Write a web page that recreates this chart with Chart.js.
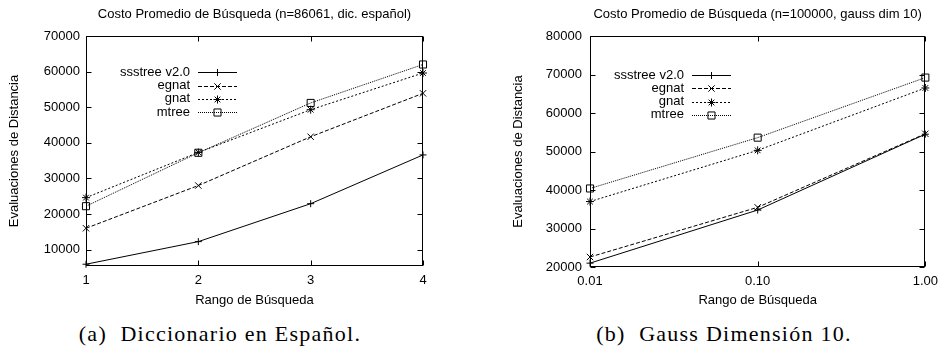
<!DOCTYPE html>
<html>
<head>
<meta charset="utf-8">
<script src="https://cdn.jsdelivr.net/npm/chart.js@4/dist/chart.umd.min.js"></script>
<style>
  body { margin: 0; background: #fff; width: 945px; height: 352px; position: relative; overflow: hidden; }
  canvas { position: absolute; top: 0; }
  .cap { position: absolute; top: 321px; font-family: 'Liberation Serif', serif; font-size: 22px;
         letter-spacing: 1.25px; white-space: pre; transform: translateX(-50%); color: #000; }
</style>
</head>
<body>
<canvas id="dic" width="470" height="310" style="left:0"></canvas>
<canvas id="gauss" width="475" height="310" style="left:470px"></canvas>
<div class="cap" style="left:220px">(a)  Diccionario en Español.</div>
<div class="cap" style="left:724px">(b)  Gauss Dimensión 10.</div>
<script>
// series shared by both plots
const seriesNames = ['ssstree v2.0', 'egnat', 'gnat', 'mtree']

// (a) diccionario en español, n=86061
const rangesA = [1, 2, 3, 4]
const xTickLabelsA = ['1', '2', '3', '4']
const yTicksA = [10000, 20000, 30000, 40000, 50000, 60000, 70000]
const ssstreeA = [5900, 12250, 22900, 36600]
const egnatA = [16000, 28000, 41700, 53900]
const gnatA = [24600, 37300, 49300, 59600]
const mtreeA = [22200, 37200, 51200, 62000]

// (b) gauss dim 10, n=100000
const rangesB = [0.01, 0.1, 1]
const xTickLabelsB = ['0.01', '0.10', '1.00']
const yTicksB = [20000, 30000, 40000, 50000, 60000, 70000, 80000]
const ssstreeB = [21000, 34800, 54500]
const egnatB = [22600, 35500, 54600]
const gnatB = [37000, 50300, 66500]
const mtreeB = [40400, 53600, 69200]

const FONT = 'Liberation Sans, Arial, sans-serif'
const dashes = [[], [4, 2], [2, 2], [1, 1]]
const markers = ['cross', 'crossRot', 'star', 'rect']
const markerSizes = [3.5, 4.5, 4, 5]

// gnuplot style frame with inward ticks, plus the key inside the plot
const frameAndKey = {
  id: 'frameAndKey',
  afterDatasetsDraw(chart, args, opts) {
    const { ctx, chartArea: a, scales: { x, y } } = chart
    ctx.save()
    ctx.strokeStyle = '#000'
    ctx.lineWidth = 1
    ctx.setLineDash([])
    const L = Math.round(a.left) + 0.5, R = Math.round(a.right) - 0.5
    const T = Math.round(a.top) + 0.5, B = Math.round(a.bottom) - 0.5
    ctx.strokeRect(L, T, R - L, B - T)
    ctx.beginPath()
    y.ticks.forEach(t => {
      const py = Math.round(y.getPixelForValue(t.value)) + 0.5
      ctx.moveTo(L, py); ctx.lineTo(L + 5, py)
      ctx.moveTo(R, py); ctx.lineTo(R - 5, py)
    })
    x.ticks.forEach(t => {
      const px = Math.round(x.getPixelForValue(t.value)) + 0.5
      ctx.moveTo(px, B); ctx.lineTo(px, B - 5)
      ctx.moveTo(px, T); ctx.lineTo(px, T + 5)
    })
    ctx.stroke()

    // key
    ctx.font = '13px ' + FONT
    ctx.fillStyle = '#000'
    ctx.textAlign = 'right'
    ctx.textBaseline = 'middle'
    chart.data.datasets.forEach((ds, i) => {
      const ky = opts.y + i * 13.3
      ctx.fillText(ds.label, opts.x, ky)
      ctx.setLineDash(ds.borderDash)
      ctx.beginPath()
      ctx.moveTo(opts.x + 8, Math.round(ky) + 0.5)
      ctx.lineTo(opts.x + 47, Math.round(ky) + 0.5)
      ctx.stroke()
      ctx.setLineDash([])
      ctx.fillStyle = 'rgba(0,0,0,0)'
      Chart.helpers.drawPoint(ctx, { pointStyle: ds.pointStyle, rotation: 0, radius: ds.pointRadius, borderWidth: 1 },
        opts.x + 27.5, Math.round(ky) + 0.5)
      ctx.fillStyle = '#000'
    })
    ctx.restore()
  }
}

function makeChart(id, cfg) {
  return new Chart(document.getElementById(id), {
    type: 'line',
    data: {
      datasets: seriesNames.map((name, i) => ({
        label: name,
        data: cfg.xs.map((v, j) => ({ x: v, y: cfg.series[i][j] })),
        borderColor: '#000',
        borderWidth: 1,
        borderDash: dashes[i],
        pointStyle: markers[i],
        pointRadius: markerSizes[i],
        pointBorderColor: '#000',
        pointBackgroundColor: 'rgba(0,0,0,0)',
        pointBorderWidth: 1,
        tension: 0,
        fill: false,
        clip: false
      }))
    },
    options: {
      responsive: false,
      animation: false,
      events: [],
      layout: { padding: { left: 0, top: 0, bottom: 0, right: cfg.padRight } },
      plugins: {
        legend: { display: false },
        tooltip: { enabled: false },
        title: {
          display: true, text: cfg.title, fullSize: false, color: '#000',
          font: { family: FONT, size: 13, weight: 'normal' },
          padding: { top: 7, bottom: 13.4 }
        },
        frameAndKey: { x: cfg.keyX, y: cfg.keyY }
      },
      scales: {
        x: {
          type: cfg.xType, min: cfg.xs[0], max: cfg.xs[cfg.xs.length - 1],
          grid: { display: false, drawTicks: false }, border: { display: false },
          ticks: { color: '#000', font: { family: FONT, size: 13 }, padding: 7, maxRotation: 0,
                   callback: (v, i) => cfg.xLabels[i] },
          title: { display: true, text: 'Rango de Búsqueda', color: '#000',
                   font: { family: FONT, size: 13 }, padding: { top: 0, bottom: 2 } },
          afterBuildTicks: s => { s.ticks = cfg.xs.map(v => ({ value: v })) },
          afterFit: s => { s.height = cfg.xH }
        },
        y: {
          min: cfg.yMin, max: cfg.yMax,
          grid: { display: false, drawTicks: false }, border: { display: false },
          ticks: { color: '#000', font: { family: FONT, size: 13 }, padding: cfg.yPad,
                   callback: v => String(v) },
          title: { display: true, text: 'Evaluaciones de Distancia', color: '#000',
                   font: { family: FONT, size: 13 }, padding: { top: cfg.yTitlePad, bottom: 0 } },
          afterBuildTicks: s => { s.ticks = cfg.yTicks.map(v => ({ value: v })) },
          afterFit: s => { s.width = cfg.yW }
        }
      }
    },
    plugins: [frameAndKey]
  })
}

makeChart('dic', {
  title: 'Costo Promedio de Búsqueda (n=86061, dic. español)',
  xType: 'linear', xs: rangesA, xLabels: xTickLabelsA,
  series: [ssstreeA, egnatA, gnatA, mtreeA],
  yMin: 5400, yMax: 70000, yTicks: yTicksA,
  yW: 86, yPad: 6, yTitlePad: 7, xH: 44, padRight: 47,
  keyX: 190, keyY: 72.3
})

makeChart('gauss', {
  title: 'Costo Promedio de Búsqueda (n=100000, gauss dim 10)',
  xType: 'logarithmic', xs: rangesB, xLabels: xTickLabelsB,
  series: [ssstreeB, egnatB, gnatB, mtreeB],
  yMin: 20000, yMax: 80000, yTicks: yTicksB,
  yW: 120, yPad: 8, yTitlePad: 41, xH: 43, padRight: 17,
  keyX: 214, keyY: 75
})
</script>
</body>
</html>
